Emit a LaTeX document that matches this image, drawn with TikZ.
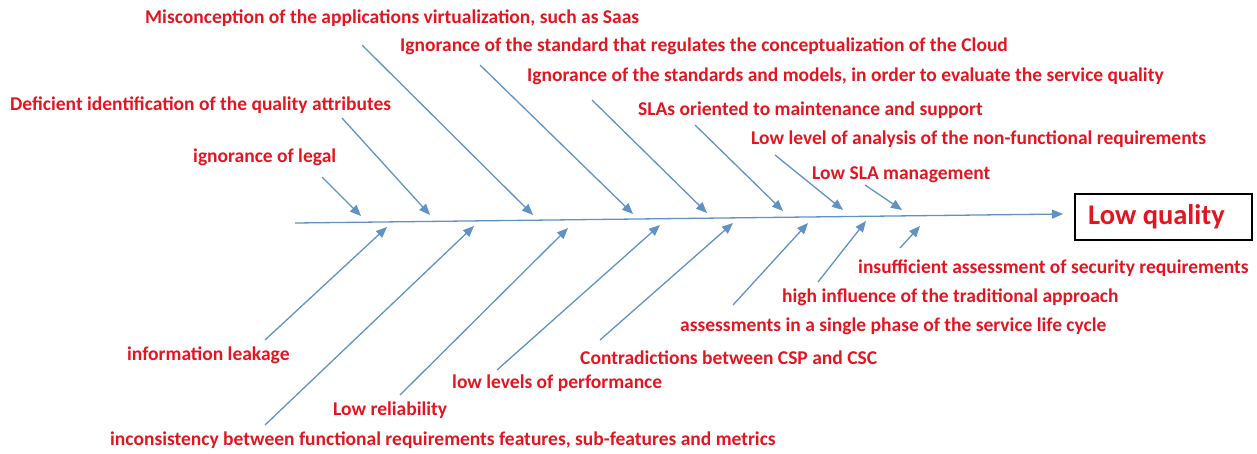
\documentclass[tikz,border=0pt]{standalone}
\usepackage{fontspec}
\setmainfont{Carlito}
\usetikzlibrary{arrows.meta}
\definecolor{lblred}{RGB}{226,22,32}
\definecolor{arrblue}{RGB}{96,146,196}
\begin{document}
\begin{tikzpicture}[x=1pt,y=-1pt,
  lbl/.style={text=lblred,font=\bfseries\fontsize{19.5}{22}\selectfont,anchor=west,inner sep=0pt},
  cause/.style={draw=arrblue,line width=1.3pt,-{Triangle[length=11pt,width=9pt]}},
  effect/.style={draw=black,line width=1.3pt,text=lblred,font=\bfseries\fontsize{28.5}{32}\selectfont,minimum width=177pt,minimum height=46pt,inner sep=0pt}]
\useasboundingbox (0,0) rectangle (1257,453);
% effect box
\node[effect] (eff) at (1163.5,217) {\hspace*{-14pt}Low quality};
% spine
\coordinate (sp0) at (295,223);
\coordinate (sp1) at (1063,214);
\draw[cause] (sp0) -- (sp1);
% upper labels
\node[lbl] (u1) at (145,18) {Misconception of the applications virtualization, such as Saas};
\node[lbl] (u2) at (400,46) {Ignorance of the standard that regulates the conceptualization of the Cloud};
\node[lbl] (u3) at (527,76) {Ignorance of the standards and models, in order to evaluate the service quality};
\node[lbl] (u4) at (638,110) {SLAs oriented to maintenance and support};
\node[lbl] (u5) at (751,139) {Low level of analysis of the non-functional requirements};
\node[lbl] (u6) at (812,175) {Low SLA management};
\node[lbl] (u7) at (10,105) {Deficient identification of the quality attributes};
\node[lbl] (u8) at (193,157) {ignorance of legal};
% lower labels
\node[lbl] (l1) at (127,355) {information leakage};
\node[lbl] (l2) at (110,440) {inconsistency between functional requirements features, sub-features and metrics};
\node[lbl] (l3) at (333,410) {Low reliability};
\node[lbl] (l4) at (452,383) {low levels of performance};
\node[lbl] (l5) at (580,358) {Contradictions between CSP and CSC};
\node[lbl] (l6) at (680,326) {assessments in a single phase of the service life cycle};
\node[lbl] (l7) at (782,297) {high influence of the traditional approach};
\node[lbl] (l8) at (858,268) {insufficient assessment of security requirements};
% upper arrows
\coordinate (a1) at (362,45);  \coordinate (b1) at (533,215);
\coordinate (a2) at (480,65);  \coordinate (b2) at (633,214);
\coordinate (a3) at (592,100); \coordinate (b3) at (707,213);
\coordinate (a4) at (695,125); \coordinate (b4) at (783,211);
\coordinate (a5) at (775,155); \coordinate (b5) at (843,210);
\coordinate (a6) at (865,185); \coordinate (b6) at (902,210);
\coordinate (a7) at (342,118); \coordinate (b7) at (430,215);
\coordinate (a8) at (322,177); \coordinate (b8) at (361,216);
\foreach \i in {1,...,8} {\draw[cause] (a\i) -- (b\i);}
% lower arrows
\coordinate (c1) at (265,340); \coordinate (d1) at (387,227);
\coordinate (c2) at (265,425); \coordinate (d2) at (474,226);
\coordinate (c3) at (400,395); \coordinate (d3) at (568,228);
\coordinate (c4) at (497,370); \coordinate (d4) at (660,225);
\coordinate (c5) at (600,340); \coordinate (d5) at (733,223);
\coordinate (c6) at (733,305); \coordinate (d6) at (808,223);
\coordinate (c7) at (818,282); \coordinate (d7) at (866,221);
\coordinate (c8) at (900,248); \coordinate (d8) at (920,226);
\foreach \i in {1,...,8} {\draw[cause] (c\i) -- (d\i);}
\end{tikzpicture}
\end{document}
